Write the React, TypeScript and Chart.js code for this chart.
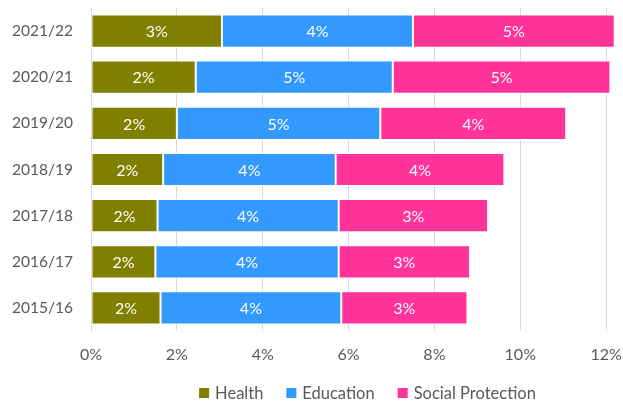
import React, { useEffect, useRef } from "react";
import { Chart, registerables } from "chart.js";

Chart.register(...registerables);

const categories = ["2021/22", "2020/21", "2019/20", "2018/19", "2017/18", "2016/17", "2015/16"];
const health = [3.05, 2.44, 2.0, 1.68, 1.55, 1.5, 1.62];
const education = [4.45, 4.59, 4.74, 4.02, 4.22, 4.27, 4.21];
const socialProtection = [4.7, 5.07, 4.33, 3.93, 3.48, 3.06, 2.94];
const xTicks = [0, 2, 4, 6, 8, 10, 12];
const seriesNames = ["Health", "Education", "Social Protection"];
const seriesColors = ["#808000", "#3399FF", "#FF3399"];

const FONT = "Lato, 'Open Sans', sans-serif";
const TEXT = "#595959";

const labelPlugin = {
  id: "barLabels",
  afterDatasetsDraw(chart: any) {
    const ctx = chart.ctx;
    ctx.save();
    ctx.font = `16px ${FONT}`;
    ctx.fillStyle = "#ffffff";
    ctx.textAlign = "center";
    ctx.textBaseline = "middle";
    chart.data.datasets.forEach((ds: any, i: number) => {
      const meta = chart.getDatasetMeta(i);
      meta.data.forEach((bar: any, j: number) => {
        const v = ds.data[j];
        const cx = (bar.x + bar.base) / 2;
        ctx.fillText(Math.round(v) + "%", cx, bar.y + 1);
      });
    });
    ctx.restore();
  },
};

const legendPlugin = {
  id: "customLegend",
  afterDraw(chart: any) {
    const ctx = chart.ctx;
    ctx.save();
    ctx.font = `16.5px ${FONT}`;
    ctx.textBaseline = "middle";
    ctx.textAlign = "left";
    const box = 10;
    const gap = 6;
    const itemGap = 23;
    const ds = chart.data.datasets;
    const widths = ds.map((d: any) => box + gap + ctx.measureText(d.label).width);
    const total = widths.reduce((a: number, b: number) => a + b, 0) + itemGap * (ds.length - 1);
    const centerX = 367.5;
    const y = 393;
    let x = centerX - total / 2;
    ds.forEach((d: any, i: number) => {
      ctx.fillStyle = d.backgroundColor;
      ctx.fillRect(x, y - box / 2, box, box);
      ctx.fillStyle = TEXT;
      ctx.fillText(d.label, x + box + gap, y + 1);
      x += widths[i] + itemGap;
    });
    ctx.restore();
  },
};

export default function App() {
  const ref = useRef<HTMLCanvasElement>(null);
  useEffect(() => {
    document.body.style.margin = "0";
    const data = [health, education, socialProtection];
    const chart = new Chart(ref.current!, {
      type: "bar",
      data: {
        labels: categories,
        datasets: data.map((d, i) => ({
          label: seriesNames[i],
          data: d,
          backgroundColor: seriesColors[i],
          borderColor: "#ffffff",
          borderWidth: 1,
          borderSkipped: false,
          categoryPercentage: 0.72,
          barPercentage: 1,
        })),
      },
      options: {
        indexAxis: "y",
        animation: false,
        responsive: false,
        maintainAspectRatio: false,
        layout: { autoPadding: false, padding: { left: 0, right: 4, top: 8, bottom: 37 } },
        scales: {
          x: {
            stacked: true,
            min: 0,
            max: 12.3,
            afterBuildTicks: (s: any) => {
              s.ticks = xTicks.map((v) => ({ value: v }));
            },
            ticks: {
              callback: (v: any) => v + "%",
              color: TEXT,
              font: { family: FONT, size: 16 },
              padding: 14,
              maxRotation: 0,
            },
            grid: { color: "#d9d9d9", lineWidth: 1, drawTicks: false },
            border: { display: false },
            afterFit: (s: any) => {
              s.height = 33;
              s.paddingLeft = 0;
              s.paddingRight = 0;
            },
          },
          y: {
            stacked: true,
            ticks: {
              color: TEXT,
              font: { family: FONT, size: 15.5 },
              padding: 18,
            },
            grid: { display: false, drawTicks: false },
            border: { color: "#d9d9d9", width: 1 },
            afterFit: (s: any) => {
              s.width = 91;
              s.paddingTop = 0;
              s.paddingBottom = 0;
            },
          },
        },
        plugins: {
          legend: { display: false },
          tooltip: { enabled: false },
        },
      },
      plugins: [labelPlugin, legendPlugin],
    });
    return () => chart.destroy();
  }, []);
  return (
    <div style={{ position: "absolute", left: 0, top: 0, width: 623, height: 401 }}>
      <canvas ref={ref} width={623} height={401} style={{ width: 623, height: 401 }} />
    </div>
  );
}
